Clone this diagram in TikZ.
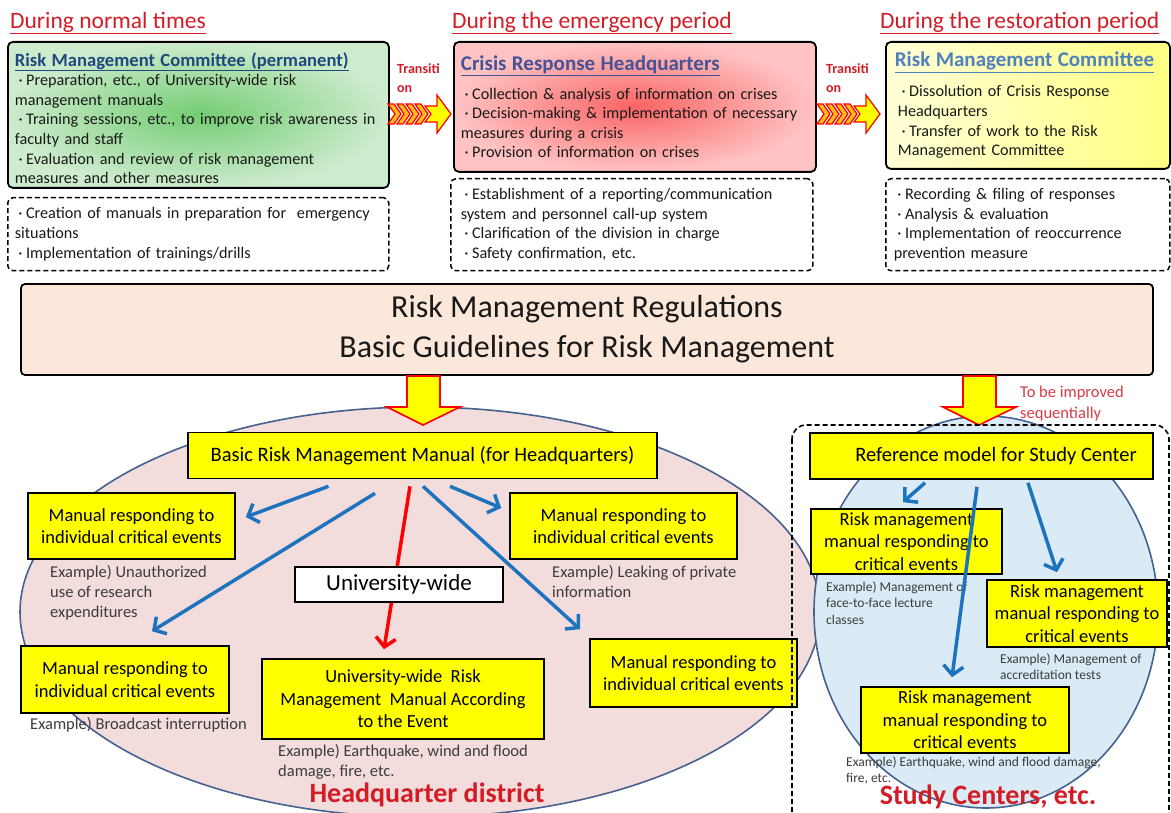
\documentclass[tikz,border=0pt]{standalone}
\usepackage{fontspec}
\setmainfont{Carlito}
\usetikzlibrary{arrows.meta}

\definecolor{titlered}{RGB}{212,28,38}
\definecolor{bodytext}{RGB}{25,25,25}
\definecolor{exgray}{RGB}{60,60,60}
\definecolor{headA}{RGB}{31,73,125}
\definecolor{headB}{RGB}{68,84,150}
\definecolor{headC}{RGB}{79,129,189}
\definecolor{greenin}{RGB}{115,205,115}
\definecolor{greenout}{RGB}{205,235,205}
\definecolor{redin}{RGB}{250,100,100}
\definecolor{redout}{RGB}{255,195,195}
\definecolor{yelleft}{RGB}{255,255,215}
\definecolor{yelright}{RGB}{255,255,130}
\definecolor{bannerfill}{RGB}{252,232,218}
\definecolor{boxyellow}{RGB}{255,255,0}
\definecolor{chevronfill}{RGB}{255,190,30}
\definecolor{hqfill}{RGB}{242,221,220}
\definecolor{scfill}{RGB}{218,235,245}
\definecolor{zoneline}{RGB}{70,98,145}
\definecolor{flowblue}{RGB}{30,115,190}
\definecolor{improvered}{RGB}{215,60,70}

\newcommand\dotb{\makebox[0.7em][c]{·}}

\begin{document}
\begin{tikzpicture}[x=1pt,y=-1pt,
  period/.style={anchor=west,text=titlered,font=\fontsize{23.5}{27}\selectfont,inner sep=0pt},
  phase/.style={draw,line width=1.8pt,rounded corners=5pt,anchor=north west,align=left,
    text=bodytext,font=\fontsize{16.2}{19.6}\selectfont,inner xsep=7pt},
  duty/.style={phase,fill=white,dash pattern=on 5pt off 3pt,line width=1.5pt},
  transit/.style={text=titlered,font=\fontsize{14}{19}\selectfont\bfseries,align=left,
    anchor=north west,inner sep=0pt},
  manual/.style={draw,fill=boxyellow,line width=1.6pt,align=center,text=black,
    font=\fontsize{18.5}{22.5}\selectfont,inner sep=0pt},
  bigmanual/.style={manual,font=\fontsize{20.5}{24}\selectfont},
  example/.style={anchor=north west,align=left,text=exgray,font=\fontsize{16.5}{20}\selectfont,inner sep=0pt},
  scexample/.style={example,font=\fontsize{13.5}{16.5}\selectfont},
  flow/.style={draw=flowblue,line width=3.5pt,-{Straight Barb[length=9pt,width=20pt]}},
  redflow/.style={flow,draw=red},
  zone/.style={text=titlered,font=\fontsize{28}{30}\selectfont\bfseries,inner sep=0pt}]

\useasboundingbox (0,0) rectangle (1171,813);
\clip (0,0) rectangle (1171,813);

% periods
\node[period] (normal-t) at (10,23) {\underline{During normal times}};
\node[period] (emerg-t) at (452,23) {\underline{During the emergency period}};
\node[period] (resto-t) at (880,23) {\underline{During the restoration period}};

\node[phase,text width=367pt,minimum height=146pt,inner color=greenin,outer color=greenout] (normal) at (7,41)
  {\rule{0pt}{20pt}{\fontsize{18.6}{20}\selectfont\bfseries\color{headA}\underline{Risk Management Committee (permanent)}}\\
   \dotb Preparation, etc., of University-wide risk\\
   management manuals\\
   \dotb Training sessions, etc., to improve risk awareness in\\
   faculty and staff\\
   \dotb Evaluation and review of risk management\\
   measures and other measures};
\node[duty,text width=367pt,minimum height=73pt] (normal-d) at (7,197)
  {\dotb Creation of manuals in preparation for\ \ emergency\\
   situations\\
   \dotb Implementation of trainings/drills};

\node[phase,inner xsep=7pt,text width=348pt,minimum height=130pt,inner color=redin,outer color=redout] (crisis) at (453,41)
  {{\fontsize{21}{22}\selectfont\bfseries\color{headB}\underline{Crisis Response Headquarters}}\\[9pt]
   \dotb Collection \& analysis of information on crises\\
   \dotb Decision-making \& implementation of necessary\\
   measures during a crisis\\
   \dotb Provision of information on crises};
\node[duty,inner xsep=10pt,text width=342pt,minimum height=92pt] (crisis-d) at (450,178)
  {\dotb Establishment of a reporting/communication\\
   system and personnel call-up system\\
   \dotb Clarification of the division in charge\\
   \dotb Safety confirmation, etc.};

\node[phase,inner xsep=12pt,text width=260pt,minimum height=127pt,left color=yelleft,right color=yelright,
  font=\fontsize{16.2}{19.8}\selectfont] (resto) at (885,41)
  {{\fontsize{21}{22}\selectfont\bfseries\color{headC}\hspace*{-3pt}\underline{Risk Management Committee}}\\[10pt]
   \dotb Dissolution of Crisis Response\\
   Headquarters\\
   \dotb Transfer of work to the Risk\\
   Management Committee};
\node[duty,inner xsep=8pt,text width=268pt,minimum height=92pt] (resto-d) at (885,178)
  {\dotb Recording \& filing of responses\\
   \dotb Analysis \& evaluation\\
   \dotb Implementation of reoccurrence\\
   prevention measure};

% transitions
\node[transit] (go1) at (397,63) {Transiti\\on};
\node[transit] (go2) at (826,63) {Transiti\\on};
\foreach \tx in {388,817} {
  \foreach \k in {0,1,2,3}
    \draw[draw=red,line width=1.2pt,fill=chevronfill] (\tx+9*\k,104) -- ++(6,0) -- ++(7,10) -- ++(-7,10) -- ++(-6,0) -- ++(7,-10) -- cycle;
  \draw[draw=red,line width=1.2pt,fill=boxyellow] (\tx+37,106) -- ++(12,0) -- ++(0,-11) -- ++(14,19) -- ++(-14,19) -- ++(0,-11) -- ++(-12,0) -- ++(6,-8) -- cycle;
}

% regulations
\node[draw,line width=1.8pt,rounded corners=4pt,fill=bannerfill,minimum width=1132pt,minimum height=91pt,
  align=center,text=bodytext,font=\fontsize{32}{40}\selectfont] (rules) at (587,329.5)
  {Risk Management Regulations\\Basic Guidelines for Risk Management};

% zones
\draw[draw=zoneline,line width=1.6pt,fill=hqfill] (420,612) ellipse [x radius=400,y radius=205];
\draw[draw=zoneline,line width=1.6pt,fill=scfill] (986,612) ellipse [x radius=172,y radius=196];

\foreach \ax in {423,979}
  \draw[draw=red,line width=1.6pt,fill=boxyellow] (\ax-16,376) -- (\ax+17,376) -- (\ax+17,407) -- (\ax+37,407)
    -- (\ax,425) -- (\ax-36,407) -- (\ax-16,407) -- cycle;
\node[anchor=north west,text=improvered,font=\fontsize{16.5}{21}\selectfont,align=left,inner sep=0pt] (improve) at (1020,386)
  {To be improved\\sequentially};

% headquarter district
\node[bigmanual,minimum width=469pt,minimum height=46pt] (basic) at (422.5,455.5) {Basic Risk Management Manual (for Headquarters)};
\node[manual,minimum width=207pt,minimum height=66pt] (evA) at (131.5,526) {Manual responding to\\individual critical events};
\node[manual,minimum width=227pt,minimum height=66pt] (evB) at (623.5,526) {Manual responding to\\individual critical events};
\node[manual,minimum width=208pt,minimum height=67pt] (evC) at (125,679.5) {Manual responding to\\individual critical events};
\node[manual,minimum width=207pt,minimum height=68pt] (evD) at (693.5,673) {Manual responding to\\individual critical events};
\node[manual,minimum width=282pt,minimum height=80pt] (wideman) at (403,699) {University-wide\ \ Risk\\Management\ \ Manual According\\to the Event};

\node[example] (exA) at (50,565) {Example) Unauthorized\\use of research\\expenditures};
\node[example] (exC) at (30,717) {Example) Broadcast interruption};
\node[example] (exW) at (278,744) {Example) Earthquake, wind and flood\\damage, fire, etc.};
\node[example] (exB) at (552,565) {Example) Leaking of private\\information};

\draw[flow] ([xshift=-94pt,yshift=-7pt]basic.south) -- ([xshift=10pt,yshift=9pt]evA.east);
\draw[flow] ([xshift=-47.5pt,yshift=-14pt]basic.south) -- ([xshift=27pt,yshift=14pt]evC.north);
\draw[redflow] ([xshift=-12.5pt,yshift=-7pt]basic.south) -- ([xshift=-19pt,yshift=9pt]wideman.north);
\draw[flow] ([xshift=0.5pt,yshift=-7pt]basic.south) -- ([xshift=-113.5pt,yshift=9pt]evD.north);
\draw[flow] ([xshift=27.5pt,yshift=-7pt]basic.south) -- ([xshift=-8pt,yshift=18pt]evB.west);

\node[draw,fill=white,line width=1.4pt,minimum width=208pt,minimum height=35pt,inner sep=0pt,
  font=\fontsize{23}{26}\selectfont] (wide) at (399,584.5) {University-wide};
\node[zone] (hq) at (427,795) {Headquarter district};

% study centers
\node[bigmanual,minimum width=343pt,minimum height=46pt] (refmodel) at (981.5,456) {\hspace*{29pt}Reference model for Study Center};
\node[manual,minimum width=191pt,minimum height=65pt] (scA) at (906.5,541.5) {Risk management\\manual responding to\\critical events};
\node[manual,minimum width=180pt,minimum height=67pt] (scB) at (1077,613.5) {Risk management\\manual responding to\\critical events};
\node[manual,minimum width=208pt,minimum height=66pt] (scC) at (965,720) {Risk management\\manual responding to\\critical events};

\node[scexample] (exSA) at (826,581) {Example) Management of\\face-to-face lecture\\classes};
\node[scexample] (exSB) at (1000,653) {Example) Management of\\accreditation tests};
\node[scexample] (exSC) at (846,756) {Example) Earthquake, wind and flood damage,\\fire, etc.};

\draw[flow] ([xshift=-56.5pt,yshift=-3pt]refmodel.south) -- ([xshift=-3.5pt,yshift=6pt]scA.north);
\draw[flow] ([xshift=-4.5pt,yshift=-7pt]refmodel.south) -- ([xshift=-13pt,yshift=9pt]scC.north);
\draw[flow] ([xshift=46.5pt,yshift=-3pt]refmodel.south) -- ([xshift=-20pt,yshift=7pt]scB.north);

\node[zone] (sc) at (988,797) {Study Centers, etc.};
\draw[line width=1.6pt,dash pattern=on 5pt off 3pt,rounded corners=14pt] (792,425) rectangle (1169,830);
\end{tikzpicture}
\end{document}
